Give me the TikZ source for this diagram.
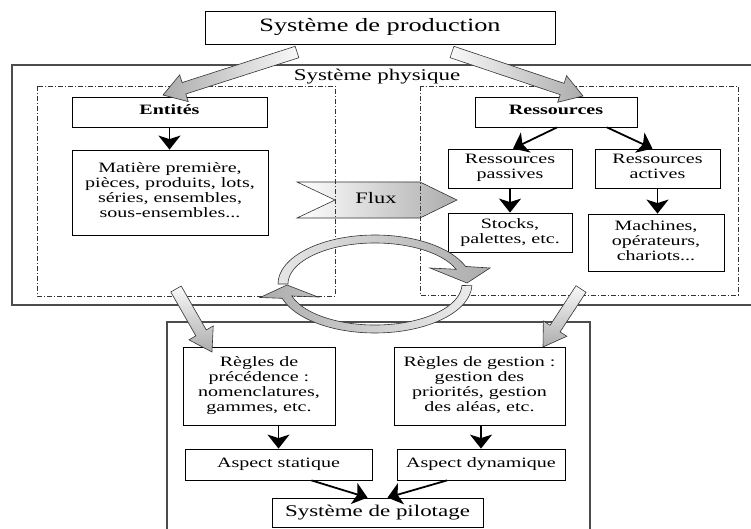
\documentclass[tikz,border=0pt]{standalone}
\usepackage{fontspec}
\usepackage{graphicx}
\setmainfont{Liberation Serif}
\usetikzlibrary{calc,arrows.meta}
\newcommand\wtxt[1]{\scalebox{1.4}[1]{\begin{tabular}{@{}c@{}}#1\end{tabular}}}
\tikzset{
  box/.style={draw=black, line width=0.8pt, fill=white, align=center, inner sep=0pt,
    font=\fontsize{14.3}{15}\selectfont},
  dashbox/.style={draw=black!80, line width=0.6pt, dash pattern=on 5pt off 2pt on 1pt off 2pt},
  frame/.style={draw=black!70, line width=1.2pt},
  blk/.style={line width=1.8pt, -{Stealth[width=22pt,length=14pt,inset=3.5pt]}},
  fat/.style={draw=black!80, line width=0.6pt},
}
\newcommand\fatarrow[3]{%
  \coordinate (fa-n) at ($(#2)!22pt!(#1)$);
  \path[fat,#3] ($(#1)!6pt!90:(#2)$) -- ($(fa-n)!6pt!90:(#2)$) -- ($(fa-n)!14pt!90:(#2)$)
    -- (#2) -- ($(fa-n)!14pt!-90:(#2)$) -- ($(fa-n)!6pt!-90:(#2)$) -- ($(#1)!6pt!-90:(#2)$) -- cycle;
}
\begin{document}
\begin{tikzpicture}[x=1pt,y=1pt]
\useasboundingbox (0,0) rectangle (751,-529);
\fill[white] (0,0) rectangle (751,-529);
\clip (0,0) rectangle (751,-529);

% outer frames
\draw[frame] (12,-65) rectangle (760,-305);
\draw[frame] (167,-540) -- (167,-322) -- (590,-322) -- (590,-540);
\node[font=\fontsize{16.4}{19}\selectfont, inner sep=0pt] (physique) at (377,-77) {\wtxt{Système physique}};

% flux
\path[draw=black!80, line width=0.6pt, left color=white, right color=gray!65]
  (297,-182) -- (420,-182) -- (457,-200) -- (420,-218) -- (297,-218) -- (335,-200) -- cycle;
\node[font=\fontsize{16}{19}\selectfont, inner sep=0pt] (flux) at (376,-200) {\wtxt{Flux}};

% dash boxes
\draw[dashbox] (37,-86) rectangle (335,-296);
\draw[dashbox] (420,-86) rectangle (738,-295);

% nodes
\node[box, minimum width=350pt, minimum height=33pt, font=\fontsize{18.8}{22}\selectfont] (prod) at (380,-27.5) {\wtxt{Système de production}};
\node[box, minimum width=195pt, minimum height=30pt] (entites) at (169.5,-112) {\wtxt{\textbf{Entités}}};
\node[box, minimum width=196pt, minimum height=85pt] (matiere) at (170,-192.5)
  {\wtxt{Matière première,\\pièces, produits, lots,\\séries, ensembles,\\sous-ensembles...}};
\node[box, minimum width=162pt, minimum height=30pt] (ressources) at (556,-112) {\wtxt{\textbf{Ressources}}};
\node[box, minimum width=124pt, minimum height=39pt] (passives) at (510,-168.5) {\wtxt{Ressources\\passives}};
\node[box, minimum width=125pt, minimum height=39pt] (actives) at (657.5,-168.5) {\wtxt{Ressources\\actives}};
\node[box, minimum width=124pt, minimum height=39pt] (stocks) at (510,-232.5) {\wtxt{Stocks,\\palettes, etc.}};
\node[box, minimum width=136pt, minimum height=57pt] (machines) at (656,-242.5) {\wtxt{Machines,\\opérateurs,\\chariots...}};
\node[box, minimum width=152pt, minimum height=78pt] (regles1) at (259,-386)
  {\wtxt{Règles de\\précédence :\\nomenclatures,\\gammes, etc.}};
\node[box, minimum width=171pt, minimum height=78pt] (regles2) at (479.5,-386)
  {\wtxt{Règles de gestion :\\gestion des\\priorités, gestion\\des aléas, etc.}};
\node[box, minimum width=187pt, minimum height=31pt] (statique) at (278.5,-464.5) {\wtxt{Aspect statique}};
\node[box, minimum width=168pt, minimum height=31pt] (dynamique) at (481,-464.5) {\wtxt{Aspect dynamique}};
\node[box, minimum width=211pt, minimum height=29pt, font=\fontsize{16.4}{19}\selectfont] (pilotage) at (377.5,-512.5) {\wtxt{Système de pilotage}};

% black arrows
\draw[blk] (entites.south) -- (entites.south |- matiere.north);
\draw[blk] ($(ressources.south)+(1,0)$) -- ($(passives.north)+(3,0)$);
\draw[blk] ($(ressources.south)+(51,0)$) -- ($(actives.north)+(-5,0)$);
\draw[blk] (passives.south) -- (stocks.north);
\draw[blk] (actives.south) -- (actives.south |- machines.north);
\draw[blk] (statique.north |- regles1.south) -- (statique.north);
\draw[blk] (dynamique.north |- regles2.south) -- (dynamique.north);
\draw[blk] ($(statique.south)+(33,0)$) -- ($(pilotage.north)+(-10,0)$);
\draw[blk] ($(dynamique.south)+(-34,0)$) -- ($(pilotage.north)+(10,0)$);

% fat gray arrows
\coordinate (a1t) at (297,-52);  \coordinate (a1h) at (163,-95);
\coordinate (a2t) at (452,-52);  \coordinate (a2h) at (583,-96);
\coordinate (a3t) at (176,-289); \coordinate (a3h) at (212,-352);
\coordinate (a4t) at (581,-289); \coordinate (a4h) at (543,-347);
\fatarrow{a1t}{a1h}{left color=gray!65, right color=gray!5}
\fatarrow{a2t}{a2h}{left color=gray!5, right color=gray!65}
\fatarrow{a3t}{a3h}{top color=gray!5, bottom color=gray!65}
\fatarrow{a4t}{a4h}{top color=gray!5, bottom color=gray!65}

% circular arrows
\path[fat, left color=gray!20, right color=gray!65]
  (278,-284) arc[start angle=180, end angle=21, x radius=97, y radius=49]
  -- (490,-268) -- (467,-283) -- (430,-268)
  -- (456.2,-269.3) arc[start angle=21, end angle=180, x radius=87, y radius=41] -- cycle;
\path[fat, left color=gray!65, right color=gray!15]
  (471.9,-285.7) arc[start angle=-2, end angle=-163, x radius=97, y radius=49]
  -- (260,-297.5) -- (287,-285) -- (318,-297)
  -- (291.8,-296) arc[start angle=-163, end angle=-2, x radius=87, y radius=41] -- cycle;
\end{tikzpicture}
\end{document}
